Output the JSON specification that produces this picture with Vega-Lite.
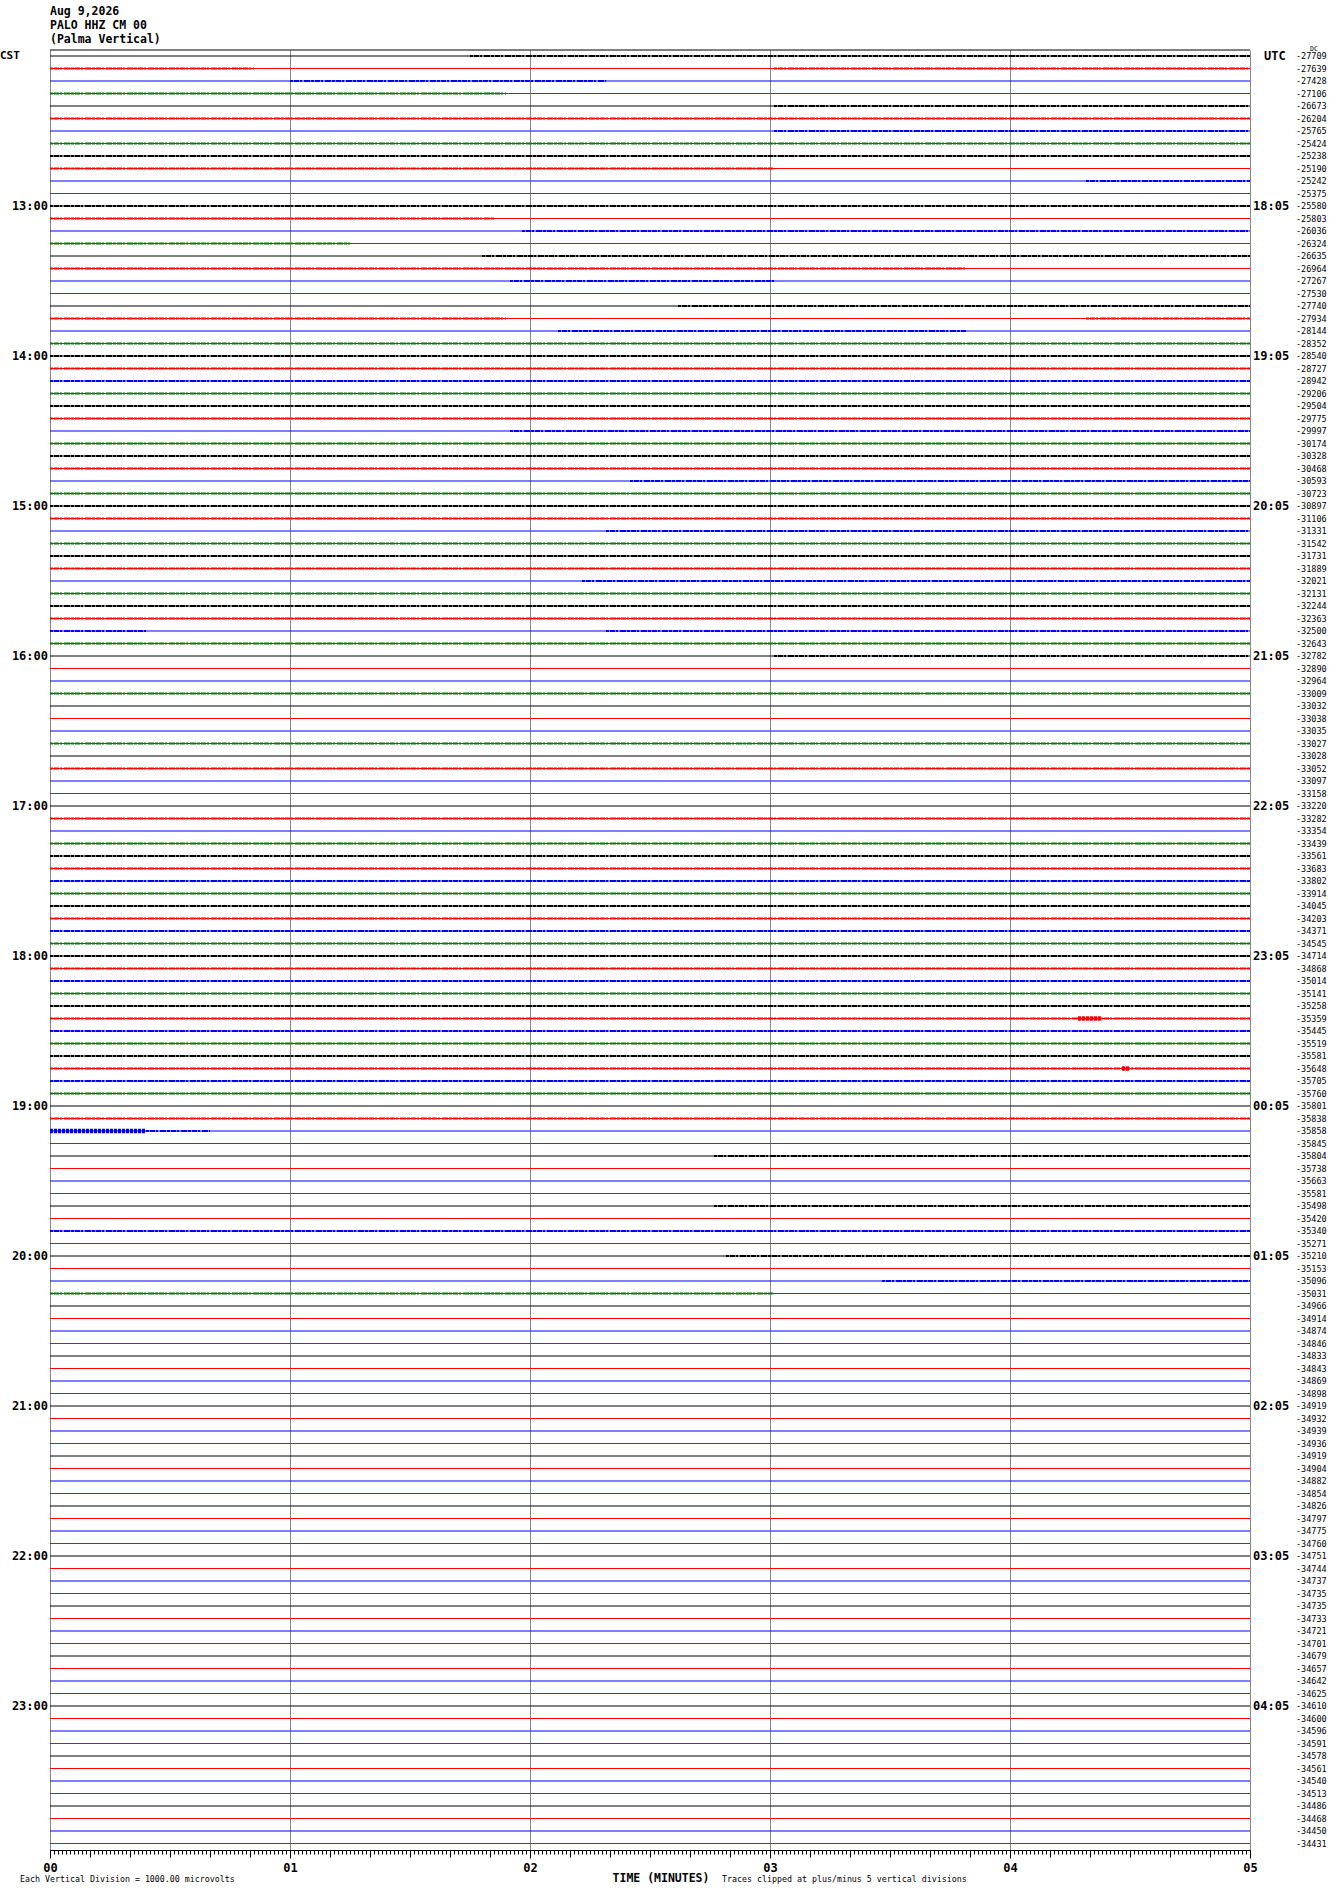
{
  "$schema": "https://vega.github.io/schema/vega-lite/v6.json",
  "width": 1200,
  "height": 1800,
  "autosize": {"type": "none"},
  "padding": {"left": 50, "top": 50, "right": 80, "bottom": 44},
  "background": "white",
  "config": {"view": {"stroke": null}},
  "title": {
    "text": ["Aug 9,2026", "PALO HHZ CM 00", "(Palma Vertical)"],
    "anchor": "start",
    "frame": "group",
    "font": "DejaVu Sans Mono",
    "fontSize": 11.5,
    "fontWeight": "bold",
    "lineHeight": 14,
    "color": "black",
    "offset": 1
  },
  "datasets": {
    "traces": [
      {"r":0,"ch":"a","v":"-27709"},{"r":1,"ch":"b","v":"-27639"},{"r":2,"ch":"c","v":"-27428"},{"r":3,"ch":"d","v":"-27106"},
      {"r":4,"ch":"a","v":"-26673"},{"r":5,"ch":"b","v":"-26204"},{"r":6,"ch":"c","v":"-25765"},{"r":7,"ch":"d","v":"-25424"},
      {"r":8,"ch":"a","v":"-25238"},{"r":9,"ch":"b","v":"-25190"},{"r":10,"ch":"c","v":"-25242"},{"r":11,"ch":"d","v":"-25375"},
      {"r":12,"ch":"a","v":"-25580"},{"r":13,"ch":"b","v":"-25803"},{"r":14,"ch":"c","v":"-26036"},{"r":15,"ch":"d","v":"-26324"},
      {"r":16,"ch":"a","v":"-26635"},{"r":17,"ch":"b","v":"-26964"},{"r":18,"ch":"c","v":"-27267"},{"r":19,"ch":"d","v":"-27530"},
      {"r":20,"ch":"a","v":"-27740"},{"r":21,"ch":"b","v":"-27934"},{"r":22,"ch":"c","v":"-28144"},{"r":23,"ch":"d","v":"-28352"},
      {"r":24,"ch":"a","v":"-28540"},{"r":25,"ch":"b","v":"-28727"},{"r":26,"ch":"c","v":"-28942"},{"r":27,"ch":"d","v":"-29206"},
      {"r":28,"ch":"a","v":"-29504"},{"r":29,"ch":"b","v":"-29775"},{"r":30,"ch":"c","v":"-29997"},{"r":31,"ch":"d","v":"-30174"},
      {"r":32,"ch":"a","v":"-30328"},{"r":33,"ch":"b","v":"-30468"},{"r":34,"ch":"c","v":"-30593"},{"r":35,"ch":"d","v":"-30723"},
      {"r":36,"ch":"a","v":"-30897"},{"r":37,"ch":"b","v":"-31106"},{"r":38,"ch":"c","v":"-31331"},{"r":39,"ch":"d","v":"-31542"},
      {"r":40,"ch":"a","v":"-31731"},{"r":41,"ch":"b","v":"-31889"},{"r":42,"ch":"c","v":"-32021"},{"r":43,"ch":"d","v":"-32131"},
      {"r":44,"ch":"a","v":"-32244"},{"r":45,"ch":"b","v":"-32363"},{"r":46,"ch":"c","v":"-32500"},{"r":47,"ch":"d","v":"-32643"},
      {"r":48,"ch":"a","v":"-32782"},{"r":49,"ch":"b","v":"-32890"},{"r":50,"ch":"c","v":"-32964"},{"r":51,"ch":"d","v":"-33009"},
      {"r":52,"ch":"a","v":"-33032"},{"r":53,"ch":"b","v":"-33038"},{"r":54,"ch":"c","v":"-33035"},{"r":55,"ch":"d","v":"-33027"},
      {"r":56,"ch":"a","v":"-33028"},{"r":57,"ch":"b","v":"-33052"},{"r":58,"ch":"c","v":"-33097"},{"r":59,"ch":"d","v":"-33158"},
      {"r":60,"ch":"a","v":"-33220"},{"r":61,"ch":"b","v":"-33282"},{"r":62,"ch":"c","v":"-33354"},{"r":63,"ch":"d","v":"-33439"},
      {"r":64,"ch":"a","v":"-33561"},{"r":65,"ch":"b","v":"-33683"},{"r":66,"ch":"c","v":"-33802"},{"r":67,"ch":"d","v":"-33914"},
      {"r":68,"ch":"a","v":"-34045"},{"r":69,"ch":"b","v":"-34203"},{"r":70,"ch":"c","v":"-34371"},{"r":71,"ch":"d","v":"-34545"},
      {"r":72,"ch":"a","v":"-34714"},{"r":73,"ch":"b","v":"-34868"},{"r":74,"ch":"c","v":"-35014"},{"r":75,"ch":"d","v":"-35141"},
      {"r":76,"ch":"a","v":"-35258"},{"r":77,"ch":"b","v":"-35359"},{"r":78,"ch":"c","v":"-35445"},{"r":79,"ch":"d","v":"-35519"},
      {"r":80,"ch":"a","v":"-35581"},{"r":81,"ch":"b","v":"-35648"},{"r":82,"ch":"c","v":"-35705"},{"r":83,"ch":"d","v":"-35760"},
      {"r":84,"ch":"a","v":"-35801"},{"r":85,"ch":"b","v":"-35838"},{"r":86,"ch":"c","v":"-35858"},{"r":87,"ch":"d","v":"-35845"},
      {"r":88,"ch":"a","v":"-35804"},{"r":89,"ch":"b","v":"-35738"},{"r":90,"ch":"c","v":"-35663"},{"r":91,"ch":"d","v":"-35581"},
      {"r":92,"ch":"a","v":"-35498"},{"r":93,"ch":"b","v":"-35420"},{"r":94,"ch":"c","v":"-35340"},{"r":95,"ch":"d","v":"-35271"},
      {"r":96,"ch":"a","v":"-35210"},{"r":97,"ch":"b","v":"-35153"},{"r":98,"ch":"c","v":"-35096"},{"r":99,"ch":"d","v":"-35031"},
      {"r":100,"ch":"a","v":"-34966"},{"r":101,"ch":"b","v":"-34914"},{"r":102,"ch":"c","v":"-34874"},{"r":103,"ch":"d","v":"-34846"},
      {"r":104,"ch":"a","v":"-34833"},{"r":105,"ch":"b","v":"-34843"},{"r":106,"ch":"c","v":"-34869"},{"r":107,"ch":"d","v":"-34898"},
      {"r":108,"ch":"a","v":"-34919"},{"r":109,"ch":"b","v":"-34932"},{"r":110,"ch":"c","v":"-34939"},{"r":111,"ch":"d","v":"-34936"},
      {"r":112,"ch":"a","v":"-34919"},{"r":113,"ch":"b","v":"-34904"},{"r":114,"ch":"c","v":"-34882"},{"r":115,"ch":"d","v":"-34854"},
      {"r":116,"ch":"a","v":"-34826"},{"r":117,"ch":"b","v":"-34797"},{"r":118,"ch":"c","v":"-34775"},{"r":119,"ch":"d","v":"-34760"},
      {"r":120,"ch":"a","v":"-34751"},{"r":121,"ch":"b","v":"-34744"},{"r":122,"ch":"c","v":"-34737"},{"r":123,"ch":"d","v":"-34735"},
      {"r":124,"ch":"a","v":"-34735"},{"r":125,"ch":"b","v":"-34733"},{"r":126,"ch":"c","v":"-34721"},{"r":127,"ch":"d","v":"-34701"},
      {"r":128,"ch":"a","v":"-34679"},{"r":129,"ch":"b","v":"-34657"},{"r":130,"ch":"c","v":"-34642"},{"r":131,"ch":"d","v":"-34625"},
      {"r":132,"ch":"a","v":"-34610"},{"r":133,"ch":"b","v":"-34600"},{"r":134,"ch":"c","v":"-34596"},{"r":135,"ch":"d","v":"-34591"},
      {"r":136,"ch":"a","v":"-34578"},{"r":137,"ch":"b","v":"-34561"},{"r":138,"ch":"c","v":"-34540"},{"r":139,"ch":"d","v":"-34513"},
      {"r":140,"ch":"a","v":"-34486"},{"r":141,"ch":"b","v":"-34468"},{"r":142,"ch":"c","v":"-34450"},{"r":143,"ch":"d","v":"-34431"}
    ],
    "fuzz": [
      {"r":0,"ch":"a","t0":105,"t1":300},{"r":1,"ch":"b","t0":0,"t1":51},{"r":1,"ch":"b","t0":181,"t1":300},
      {"r":2,"ch":"c","t0":60,"t1":139},{"r":3,"ch":"d","t0":0,"t1":114},{"r":4,"ch":"a","t0":181,"t1":300},
      {"r":5,"ch":"b","t0":0,"t1":300},{"r":6,"ch":"c","t0":181,"t1":300},{"r":7,"ch":"d","t0":0,"t1":300},
      {"r":8,"ch":"a","t0":0,"t1":300},{"r":9,"ch":"b","t0":0,"t1":181},{"r":10,"ch":"c","t0":259,"t1":300},
      {"r":12,"ch":"a","t0":0,"t1":300},{"r":13,"ch":"b","t0":0,"t1":111},{"r":14,"ch":"c","t0":118,"t1":300},
      {"r":15,"ch":"d","t0":0,"t1":75},{"r":16,"ch":"a","t0":108,"t1":300},{"r":17,"ch":"b","t0":0,"t1":229},
      {"r":18,"ch":"c","t0":115,"t1":181},{"r":20,"ch":"a","t0":157,"t1":300},{"r":21,"ch":"b","t0":0,"t1":114},
      {"r":21,"ch":"b","t0":259,"t1":300},{"r":22,"ch":"c","t0":127,"t1":229},{"r":23,"ch":"d","t0":0,"t1":300},
      {"r":24,"ch":"a","t0":0,"t1":300},{"r":25,"ch":"b","t0":0,"t1":300},{"r":26,"ch":"c","t0":0,"t1":300},
      {"r":27,"ch":"d","t0":0,"t1":300},{"r":28,"ch":"a","t0":0,"t1":300},{"r":29,"ch":"b","t0":0,"t1":300},
      {"r":30,"ch":"c","t0":115,"t1":300},{"r":31,"ch":"d","t0":0,"t1":300},{"r":32,"ch":"a","t0":0,"t1":300},
      {"r":33,"ch":"b","t0":0,"t1":300},{"r":34,"ch":"c","t0":145,"t1":300},{"r":35,"ch":"d","t0":0,"t1":300},
      {"r":36,"ch":"a","t0":0,"t1":300},{"r":37,"ch":"b","t0":0,"t1":300},{"r":38,"ch":"c","t0":139,"t1":300},
      {"r":39,"ch":"d","t0":0,"t1":300},{"r":40,"ch":"a","t0":0,"t1":300},{"r":41,"ch":"b","t0":0,"t1":300},
      {"r":42,"ch":"c","t0":133,"t1":300},{"r":43,"ch":"d","t0":0,"t1":300},{"r":44,"ch":"a","t0":0,"t1":300},
      {"r":45,"ch":"b","t0":0,"t1":300},{"r":46,"ch":"c","t0":0,"t1":24},{"r":46,"ch":"c","t0":139,"t1":300},
      {"r":47,"ch":"d","t0":0,"t1":300},{"r":48,"ch":"a","t0":181,"t1":300},{"r":51,"ch":"d","t0":0,"t1":300},
      {"r":55,"ch":"d","t0":0,"t1":300},{"r":57,"ch":"b","t0":0,"t1":300},{"r":61,"ch":"b","t0":0,"t1":300},
      {"r":63,"ch":"d","t0":0,"t1":300},{"r":64,"ch":"a","t0":0,"t1":300},{"r":65,"ch":"b","t0":0,"t1":300},
      {"r":66,"ch":"c","t0":0,"t1":300},{"r":67,"ch":"d","t0":0,"t1":300},{"r":68,"ch":"a","t0":0,"t1":300},
      {"r":69,"ch":"b","t0":0,"t1":300},{"r":70,"ch":"c","t0":0,"t1":300},{"r":71,"ch":"d","t0":0,"t1":300},
      {"r":72,"ch":"a","t0":0,"t1":300},{"r":73,"ch":"b","t0":0,"t1":300},{"r":74,"ch":"c","t0":0,"t1":300},
      {"r":75,"ch":"d","t0":0,"t1":300},{"r":76,"ch":"a","t0":0,"t1":300},{"r":77,"ch":"b","t0":0,"t1":300},
      {"r":78,"ch":"c","t0":0,"t1":300},{"r":79,"ch":"d","t0":0,"t1":300},{"r":80,"ch":"a","t0":0,"t1":300},
      {"r":81,"ch":"b","t0":0,"t1":300},{"r":82,"ch":"c","t0":0,"t1":300},{"r":83,"ch":"d","t0":0,"t1":300},
      {"r":85,"ch":"b","t0":0,"t1":300},{"r":86,"ch":"c","t0":24,"t1":40},{"r":88,"ch":"a","t0":166,"t1":300},{"r":92,"ch":"a","t0":166,"t1":300},
      {"r":94,"ch":"c","t0":0,"t1":300},{"r":96,"ch":"a","t0":169,"t1":300},{"r":98,"ch":"c","t0":208,"t1":300},
      {"r":99,"ch":"d","t0":0,"t1":181}
    ],
    "bursts": [
      {"r":77,"ch":"b","t0":257,"t1":263},{"r":81,"ch":"b","t0":268,"t1":270},{"r":86,"ch":"c","t0":0,"t1":24}
    ],
    "hours": [
      {"r":12,"cst":"13:00","utc":"18:05"},{"r":24,"cst":"14:00","utc":"19:05"},{"r":36,"cst":"15:00","utc":"20:05"},
      {"r":48,"cst":"16:00","utc":"21:05"},{"r":60,"cst":"17:00","utc":"22:05"},{"r":72,"cst":"18:00","utc":"23:05"},
      {"r":84,"cst":"19:00","utc":"00:05"},{"r":96,"cst":"20:00","utc":"01:05"},{"r":108,"cst":"21:00","utc":"02:05"},
      {"r":120,"cst":"22:00","utc":"03:05"},{"r":132,"cst":"23:00","utc":"04:05"}
    ]
  },
  "resolve": {"axis": {"x": "independent"}},
  "layer": [
    {
      "data": {"name": "traces"},
      "mark": {"type": "rule", "strokeWidth": 1},
      "encoding": {
        "x": {"datum": 0, "type": "quantitative",
              "scale": {"domain": [0, 300], "nice": false, "zero": false},
              "axis": {"orient": "bottom", "values": [0, 60, 120, 180, 240, 300],
                       "labelExpr": "'0' + (datum.value / 60)",
                       "grid": true, "gridColor": "#888888", "gridWidth": 1, "gridOpacity": 1,
                       "domain": true, "domainColor": "black", "domainWidth": 1,
                       "ticks": true, "tickColor": "black", "tickSize": 8, "tickWidth": 1,
                       "labelFont": "DejaVu Sans Mono", "labelFontSize": 12, "labelFontWeight": "bold",
                       "labelColor": "black", "labelPadding": 4, "labelFlush": false, "title": null}},
        "x2": {"datum": 300},
        "y": {"field": "r", "type": "quantitative",
              "scale": {"domain": [-0.48, 143.52], "reverse": true, "nice": false, "zero": false},
              "axis": null},
        "color": {"field": "ch", "type": "nominal",
                  "scale": {"domain": ["a", "b", "c", "d"], "range": ["#000000", "#ff0000", "#0000ff", "#007f00"]},
                  "legend": null}
      }
    },
    {
      "data": {"name": "fuzz"},
      "mark": {"type": "rule", "strokeWidth": 2, "strokeDash": [3, 1, 5, 1, 2, 2, 6, 1]},
      "encoding": {
        "x": {"field": "t0", "type": "quantitative", "axis": null},
        "x2": {"field": "t1"},
        "y": {"field": "r", "type": "quantitative"},
        "color": {"field": "ch", "type": "nominal", "legend": null}
      }
    },
    {
      "data": {"name": "bursts"},
      "mark": {"type": "rule", "strokeWidth": 4.5, "strokeDash": [3, 1]},
      "encoding": {
        "x": {"field": "t0", "type": "quantitative", "axis": null},
        "x2": {"field": "t1"},
        "y": {"field": "r", "type": "quantitative"},
        "color": {"field": "ch", "type": "nominal", "legend": null}
      }
    },
    {
      "data": {"values": [{}]},
      "mark": {"type": "rule", "color": "black", "strokeWidth": 1},
      "encoding": {
        "x": {"datum": 0, "type": "quantitative",
              "axis": {"orient": "bottom", "values": [0,10,20,30,40,50,60,70,80,90,100,110,120,130,140,150,160,170,180,190,200,210,220,230,240,250,260,270,280,290,300],
                       "labels": false, "grid": false, "domain": false, "ticks": true,
                       "tickColor": "black", "tickSize": 7, "tickWidth": 1, "title": null}},
        "x2": {"datum": 300},
        "y": {"datum": -0.48, "type": "quantitative"}
      }
    },
    {
      "data": {"name": "traces"},
      "mark": {"type": "text", "align": "left", "baseline": "middle", "dx": 46,
               "font": "DejaVu Sans Mono", "fontSize": 8.5, "color": "black"},
      "encoding": {
        "x": {"datum": 300, "type": "quantitative",
              "axis": {"orient": "bottom", "tickCount": 300, "labels": false, "grid": false, "domain": false,
                       "ticks": true, "tickColor": "black", "tickSize": 4, "tickWidth": 1, "title": null}},
        "y": {"field": "r", "type": "quantitative"},
        "text": {"field": "v"}
      }
    },
    {
      "data": {"name": "hours"},
      "mark": {"type": "text", "align": "right", "baseline": "middle", "dx": -2,
               "font": "DejaVu Sans Mono", "fontSize": 12, "fontWeight": "bold", "color": "black"},
      "encoding": {
        "x": {"datum": 0, "type": "quantitative", "axis": null},
        "y": {"field": "r", "type": "quantitative"},
        "text": {"field": "cst"}
      }
    },
    {
      "data": {"name": "hours"},
      "mark": {"type": "text", "align": "left", "baseline": "middle", "dx": 3,
               "font": "DejaVu Sans Mono", "fontSize": 12, "fontWeight": "bold", "color": "black"},
      "encoding": {
        "x": {"datum": 300, "type": "quantitative", "axis": null},
        "y": {"field": "r", "type": "quantitative"},
        "text": {"field": "utc"}
      }
    },
    {
      "data": {"values": [{}]},
      "mark": {"type": "text", "text": "CST", "align": "left", "baseline": "middle",
               "font": "DejaVu Sans Mono", "fontSize": 11, "fontWeight": "bold", "color": "black"},
      "encoding": {
        "x": {"datum": -12.5, "type": "quantitative", "axis": null},
        "y": {"datum": 0, "type": "quantitative"}
      }
    },
    {
      "data": {"values": [{}]},
      "mark": {"type": "text", "text": "UTC", "align": "left", "baseline": "middle", "dx": 14,
               "font": "DejaVu Sans Mono", "fontSize": 12, "fontWeight": "bold", "color": "black"},
      "encoding": {
        "x": {"datum": 300, "type": "quantitative", "axis": null},
        "y": {"datum": 0, "type": "quantitative"}
      }
    },
    {
      "data": {"values": [{}]},
      "mark": {"type": "text", "text": "DC", "align": "left", "baseline": "middle",
               "font": "DejaVu Sans Mono", "fontSize": 6.5, "color": "black"},
      "encoding": {
        "x": {"datum": 315, "type": "quantitative", "axis": null},
        "y": {"datum": -0.55, "type": "quantitative"}
      }
    },
    {
      "data": {"values": [{}]},
      "mark": {"type": "text", "text": "TIME (MINUTES)", "align": "center", "baseline": "middle",
               "font": "DejaVu Sans Mono", "fontSize": 11.5, "fontWeight": "bold", "color": "black"},
      "encoding": {
        "x": {"datum": 152.75, "type": "quantitative", "axis": null},
        "y": {"datum": 145.84, "type": "quantitative"}
      }
    },
    {
      "data": {"values": [{}]},
      "mark": {"type": "text", "text": "Traces clipped at plus/minus 5 vertical divisions", "align": "left", "baseline": "middle",
               "font": "DejaVu Sans Mono", "fontSize": 8.3, "color": "black"},
      "encoding": {
        "x": {"datum": 168, "type": "quantitative", "axis": null},
        "y": {"datum": 145.9, "type": "quantitative"}
      }
    },
    {
      "data": {"values": [{}]},
      "mark": {"type": "text", "text": "Each Vertical Division = 1000.00 microvolts", "align": "left", "baseline": "middle",
               "font": "DejaVu Sans Mono", "fontSize": 8.3, "color": "black"},
      "encoding": {
        "x": {"datum": -7.5, "type": "quantitative", "axis": null},
        "y": {"datum": 145.9, "type": "quantitative"}
      }
    }
  ]
}
